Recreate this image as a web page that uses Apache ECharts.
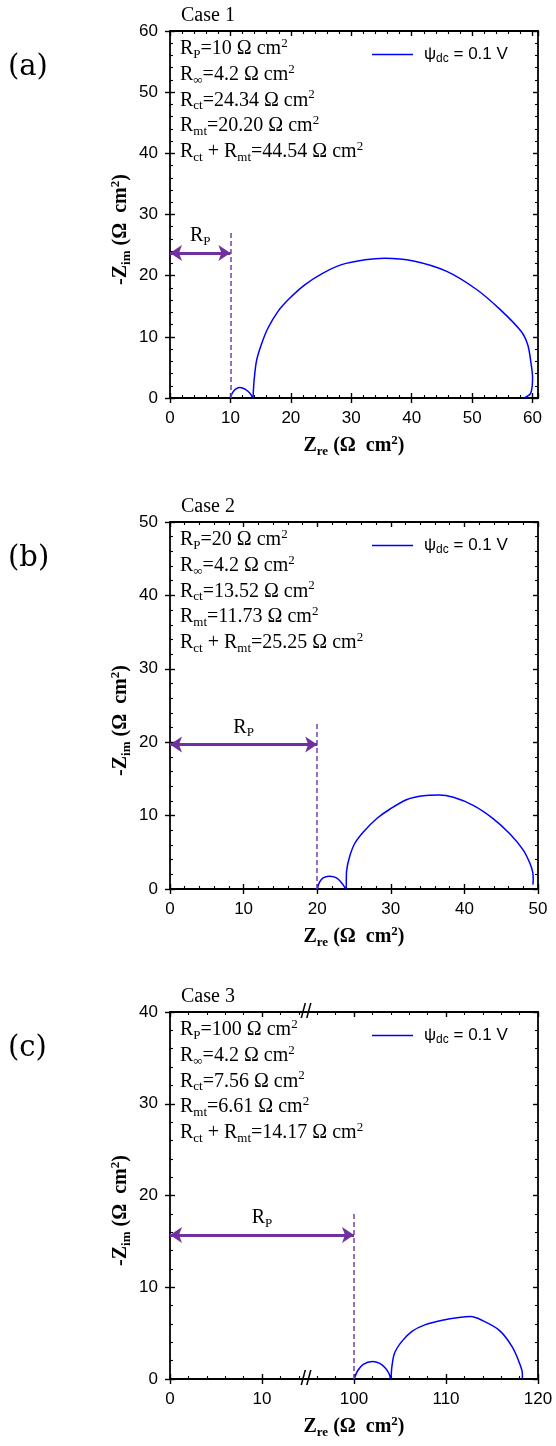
<!DOCTYPE html>
<html>
<head>
<meta charset="utf-8">
<script src="https://cdn.jsdelivr.net/npm/echarts@6/dist/echarts.min.js"></script>
<style>
html,body{margin:0;padding:0;background:#fff;}
#c{width:556px;height:1446px;}
</style>
</head>
<body>
<div id="c"></div>
<script>
// ---------------- data ----------------
const panelLabels = ['(a)', '(b)', '(c)'];
const caseTitles = ['Case 1', 'Case 2', 'Case 3'];
const legendName = 'ψdc = 0.1 V';
const rpValues = [10, 20, 100];
const rInfValues = ['4.2', '4.2', '4.2'];
const rctValues = ['24.34', '13.52', '7.56'];
const rmtValues = ['20.20', '11.73', '6.61'];
const rSumValues = ['44.54', '25.25', '14.17'];
const xMaxValues = [60.9, 50, 120];
const yMaxValues = [60, 50, 40];
const xTickLabels = [[0, 10, 20, 30, 40, 50, 60], [0, 10, 20, 30, 40, 50], [0, 10, 100, 110, 120]];
const rpLineTop = [27.2, 22.8, 18.2];
const rpArrowY = [23.7, 19.7, 15.7];
// x-axis break for case 3 (between 15 and 95)
const breakStart = 15, breakEnd = 95;

const curveCase1 = [
  [10, 0], [10.3, 0.8], [10.8, 1.4], [11.5, 1.7], [12.2, 1.55], [12.9, 1.1], [13.4, 0.55], [13.7, 0],
  [13.8, 1.2], [13.9, 2.7], [14.3, 6.0], [15.1, 8.7], [16.2, 11.4], [17.9, 14.2], [19.8, 16.3],
  [22.3, 18.5], [25.1, 20.3], [28.4, 21.8], [32.3, 22.6], [35.5, 22.85], [40.3, 22.4], [45.8, 20.7],
  [50.8, 17.7], [54.7, 14.4], [58.1, 10.9], [59.2, 8.7], [59.7, 6.0], [60.0, 3.3], [59.7, 0.8], [58.6, 0]
];
const curveCase2 = [
  [20, 0], [20.3, 0.9], [20.8, 1.5], [21.6, 1.75], [22.3, 1.65], [22.9, 1.3], [23.5, 0.6], [23.9, 0],
  [24.0, 2.5], [24.4, 4.4], [25.1, 6.2], [26.3, 7.8], [28.1, 9.6], [29.9, 10.9], [32.2, 12.2],
  [34.4, 12.7], [36.5, 12.8], [38.5, 12.5], [41.2, 11.4], [43.9, 9.6], [46.2, 7.5], [48.0, 5.3],
  [48.9, 3.5], [49.3, 2.2], [49.35, 1.2], [49.3, 0.6]
];
const curveCase3 = [
  [100, 0], [100.4, 0.9], [101.0, 1.6], [102.0, 1.9], [102.8, 1.7], [103.4, 1.2], [103.8, 0.6], [104.0, 0],
  [104.1, 1.2], [104.4, 2.8], [105.2, 4.1], [106.3, 5.2], [107.7, 5.9], [109.6, 6.4], [111.4, 6.7],
  [112.7, 6.8], [113.9, 6.4], [115.8, 5.3], [117.2, 3.5], [118.0, 1.7], [118.3, 0.6], [118.3, 0.1]
];
const curves = [curveCase1, curveCase2, curveCase3];

// ---------------- layout ----------------
const GT = [31, 522, 1012];
const GL = 170, GW = 368, GH = 367;
const SERIF = "'Liberation Serif', 'Times New Roman', serif";
const SANS = "'Liberation Sans', Arial, sans-serif";
const PURPLE = '#7030a0';

function tx(i) { // real -> axis value
  return function (x) {
    if (i !== 2) return x;
    return x <= breakStart ? x : x - (breakEnd - breakStart);
  };
}
function untx(i) {
  return function (v) {
    if (i !== 2) return v;
    return v <= breakStart ? v : v + (breakEnd - breakStart);
  };
}

const grids = [], xAxes = [], yAxes = [], series = [], legends = [], graphics = [];
const lineCol = { color: '#000', width: 1.8 };
const tickCol = { color: '#000', width: 1.4 };
const minorCol = { color: '#000', width: 1.1 };

for (let i = 0; i < 3; i++) {
  const T = tx(i), U = untx(i);
  grids.push({ left: GL, top: GT[i], width: GW, height: GH, containLabel: false });
  const xTicks = xTickLabels[i].map(T);
  const xBase = { gridIndex: i, type: 'value', min: 0, max: T(xMaxValues[i]), interval: 10, splitLine: { show: false }, silent: true };
  xAxes.push(Object.assign({}, xBase, {
    position: 'bottom',
    axisLine: { show: true, onZero: false, lineStyle: lineCol },
    axisTick: { show: true, inside: false, length: 5, customValues: xTicks, lineStyle: tickCol },
    minorTick: { show: false },
    axisLabel: {
      show: true, customValues: xTicks, margin: 12, color: '#000', fontSize: 17, fontFamily: SANS,
      formatter: function (v) { const r = U(v); return xTickLabels[i].indexOf(r) >= 0 ? String(r) : ''; }
    }
  }));
  xAxes.push(Object.assign({}, xBase, {
    position: 'bottom',
    axisLine: { show: false, onZero: false },
    axisTick: { show: true, inside: true, length: 5, lineStyle: tickCol },
    minorTick: { show: true, splitNumber: 5, length: 3, lineStyle: minorCol },
    axisLabel: { show: false }
  }));
  xAxes.push(Object.assign({}, xBase, {
    position: 'top',
    axisLine: { show: true, onZero: false, lineStyle: lineCol },
    axisTick: { show: true, inside: true, length: 5, lineStyle: tickCol },
    minorTick: { show: true, splitNumber: 5, length: 3, lineStyle: minorCol },
    axisLabel: { show: false }
  }));
  const yBase = { gridIndex: i, type: 'value', min: 0, max: yMaxValues[i], interval: 10, splitLine: { show: false }, silent: true };
  yAxes.push(Object.assign({}, yBase, {
    position: 'left',
    axisLine: { show: true, onZero: false, lineStyle: lineCol },
    axisTick: { show: true, inside: false, length: 5, lineStyle: tickCol },
    minorTick: { show: false },
    axisLabel: { show: true, margin: 12, color: '#000', fontSize: 17, fontFamily: SANS }
  }));
  yAxes.push(Object.assign({}, yBase, {
    position: 'left',
    axisLine: { show: false, onZero: false },
    axisTick: { show: true, inside: true, length: 5, lineStyle: tickCol },
    minorTick: { show: true, splitNumber: 5, length: 3, lineStyle: minorCol },
    axisLabel: { show: false }
  }));
  yAxes.push(Object.assign({}, yBase, {
    position: 'right',
    axisLine: { show: true, onZero: false, lineStyle: lineCol },
    axisTick: { show: true, inside: true, length: 5, lineStyle: tickCol },
    minorTick: { show: true, splitNumber: 5, length: 3, lineStyle: minorCol },
    axisLabel: { show: false }
  }));

  // main curve
  series.push({
    type: 'line', name: legendName, xAxisIndex: 3 * i, yAxisIndex: 3 * i,
    data: curves[i].map(p => [T(p[0]), p[1]]),
    symbol: 'none', showSymbol: false, smooth: 0.3, clip: false, animation: false, silent: true,
    lineStyle: { color: '#0000ff', width: 1.5 }, itemStyle: { color: '#0000ff' }, z: 3
  });
  // dashed Rp marker
  series.push({
    type: 'line', xAxisIndex: 3 * i, yAxisIndex: 3 * i, data: [], silent: true, animation: false,
    markLine: {
      silent: true, animation: false, symbol: ['none', 'none'], label: { show: false },
      lineStyle: { color: '#7a3fb0', width: 1.5, type: [5, 3] },
      data: [[{ coord: [T(rpValues[i]), 0] }, { coord: [T(rpValues[i]), rpLineTop[i]] }]]
    }
  });
  // double arrow with R_P
  series.push({
    type: 'line', xAxisIndex: 3 * i, yAxisIndex: 3 * i, data: [], silent: true, animation: false,
    markLine: {
      silent: true, animation: false, symbol: ['arrow', 'arrow'], symbolSize: [12, 12],
      lineStyle: { color: PURPLE, width: 3, type: 'solid' },
      label: {
        show: true, position: 'middle', distance: 5,
        formatter: '{r|R}{s|P}',
        rich: {
          r: { fontFamily: SERIF, fontSize: 20, color: '#000', lineHeight: 24 },
          s: { fontFamily: SERIF, fontSize: 13, color: '#000', lineHeight: 14, verticalAlign: 'bottom' }
        }
      },
      data: [[{ coord: [0, rpArrowY[i]] }, { coord: [T(rpValues[i]), rpArrowY[i]] }]]
    }
  });

  legends.push({
    data: [{ name: legendName, icon: 'rect' }], left: 372, top: GT[i] + 25 - 10, itemWidth: 41, itemHeight: 1.6, padding: 0,
    selectedMode: false, itemGap: 0,
    formatter: function () { return '{p|ψ}{s|dc}{p| = 0.1 V}'; },
    textStyle: {
      color: '#000', fontFamily: SANS, fontSize: 17, padding: [0, 0, 0, 6],
      rich: {
        p: { fontFamily: SANS, fontSize: 17, color: '#000', lineHeight: 20 },
        s: { fontFamily: SANS, fontSize: 12, color: '#000', lineHeight: 12, verticalAlign: 'bottom' }
      }
    }
  });

  const rich = {
    t: { fontFamily: SERIF, fontSize: 20, fill: '#000', lineHeight: 24 },
    s: { fontFamily: SERIF, fontSize: 13, fill: '#000', lineHeight: 14, verticalAlign: 'bottom' },
    u: { fontFamily: SERIF, fontSize: 13, fill: '#000', lineHeight: 14, verticalAlign: 'top' }
  };
  // panel label
  graphics.push({ type: 'text', x: 8, y: GT[i] + 36, silent: true,
    style: { text: panelLabels[i], font: "29px 'DejaVu Serif', serif", fill: '#000', verticalAlign: 'middle', align: 'left' } });
  // case title
  graphics.push({ type: 'text', x: 181, y: GT[i] - 15, silent: true,
    style: { text: caseTitles[i], font: "20px " + SERIF, fill: '#000', verticalAlign: 'middle', align: 'left' } });
  // parameters
  const lines = [
    '{t|R}{s|P}{t|=' + rpValues[i] + ' Ω cm}{u|2}',
    '{t|R}{s|∞}{t|=' + rInfValues[i] + ' Ω cm}{u|2}',
    '{t|R}{s|ct}{t|=' + rctValues[i] + ' Ω cm}{u|2}',
    '{t|R}{s|mt}{t|=' + rmtValues[i] + ' Ω cm}{u|2}',
    '{t|R}{s|ct}{t| + R}{s|mt}{t|=' + rSumValues[i] + ' Ω cm}{u|2}'
  ];
  lines.forEach(function (ln, k) {
    graphics.push({ type: 'text', x: 180, y: GT[i] + 18 + 25.7 * k, silent: true,
      style: { text: ln, rich: rich, verticalAlign: 'middle', align: 'left', fill: '#000' } });
  });
  const bold = {
    t: { fontFamily: SERIF, fontSize: 20, fontWeight: 'bold', fill: '#000', lineHeight: 24 },
    s: { fontFamily: SERIF, fontSize: 13, fontWeight: 'bold', fill: '#000', lineHeight: 14, verticalAlign: 'bottom' },
    u: { fontFamily: SERIF, fontSize: 13, fontWeight: 'bold', fill: '#000', lineHeight: 14, verticalAlign: 'top' }
  };
  // axis titles
  graphics.push({ type: 'text', x: GL + GW / 2, y: GT[i] + GH + 48, silent: true,
    style: { text: '{t|Z}{s|re}{t| (Ω  cm}{u|2}{t|)}', rich: bold, align: 'center', verticalAlign: 'middle', fill: '#000' } });
  graphics.push({ type: 'text', x: 121, y: GT[i] + GH / 2 + 15, rotation: Math.PI / 2, silent: true,
    style: { text: '{t|-Z}{s|im}{t| (Ω  cm}{u|2}{t|)}', rich: bold, align: 'center', verticalAlign: 'middle', fill: '#000' } });
}
// axis break marks for case 3
const bx = GL + GW * (breakStart / tx(2)(xMaxValues[2])) - 2;
[GT[2], GT[2] + GH].forEach(function (yy) {
  graphics.push({ type: 'text', x: bx, y: yy, silent: true,
    style: { text: '//', font: "20px " + SANS, fill: '#000', align: 'center', verticalAlign: 'middle' } });
});

const chart = echarts.init(document.getElementById('c'), null, { renderer: 'canvas', width: 556, height: 1446 });
chart.setOption({
  animation: false,
  backgroundColor: '#fff',
  grid: grids,
  xAxis: xAxes,
  yAxis: yAxes,
  legend: legends,
  series: series,
  graphic: { elements: graphics }
});
</script>
</body>
</html>
